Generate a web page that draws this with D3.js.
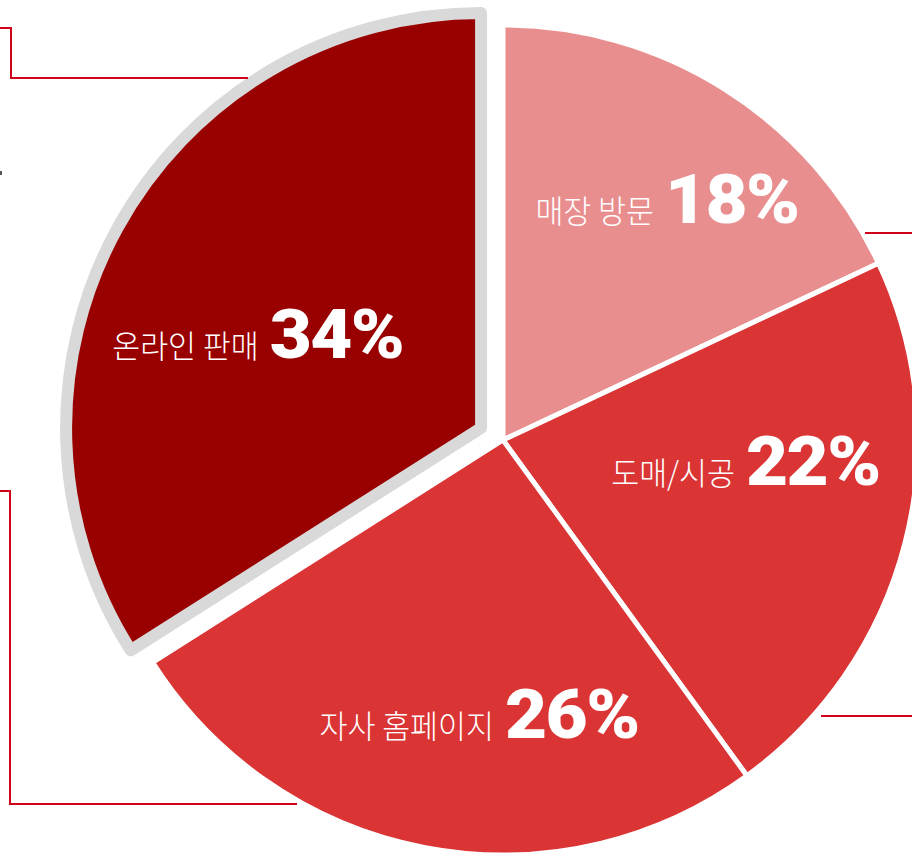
<!DOCTYPE html>
<html>
<head>
<meta charset="utf-8">
<script src="https://cdn.jsdelivr.net/npm/d3@7"></script>
<style>
  html, body { margin: 0; padding: 0; background: #ffffff; }
  svg { display: block; }
</style>
</head>
<body>
<svg id="chart" width="912" height="854"></svg>
<script>
// ---- data ----
const categories = ["매장 방문", "도매/시공", "자사 홈페이지", "온라인 판매"];
const values = [18, 22, 26, 34];
const valueLabels = ["18%", "22%", "26%", "34%"];

// ---- style / layout ----
const sliceColors = ["#e98e8e", "#da3435", "#da3435", "#990000"];
const explodedIndex = 3;
const cx = 503, cy = 440, R = 415;
const explodeDist = 25;
const labelAngleShift = [4.7, -3.9, -6.2, -11.4];   // degrees
const labelRadiusFactor = [0.655, 0.594, 0.72, 0.564];
const leaderLines = [
  [[0, 28], [11, 28], [11, 78], [248, 78]],
  [[0, 491], [10, 491], [10, 804], [297, 804]],
  [[865, 233], [912, 233]],
  [[821, 716], [912, 716]]
];

const svg = d3.select("#chart");

const pie = d3.pie().sort(null).value(d => d).startAngle(0).endAngle(2 * Math.PI);
const arcs = pie(values);
const arc = d3.arc().innerRadius(0).outerRadius(R);

const g = svg.append("g").attr("transform", `translate(${cx},${cy})`);

function offsetOf(d, i) {
  if (i !== explodedIndex) return [0, 0];
  const a = (d.startAngle + d.endAngle) / 2;
  return [Math.sin(a) * explodeDist, -Math.cos(a) * explodeDist];
}

// normal slices first, exploded slice last
const order = arcs.map((d, i) => i).filter(i => i !== explodedIndex).concat([explodedIndex]);

order.forEach(i => {
  const d = arcs[i];
  const [ox, oy] = offsetOf(d, i);
  const exploded = i === explodedIndex;
  g.append("path")
    .attr("d", arc(d))
    .attr("transform", `translate(${ox},${oy})`)
    .attr("fill", sliceColors[i])
    .attr("stroke", exploded ? "#d9d9d9" : "#ffffff")
    .attr("stroke-width", exploded ? 12 : 5)
    .attr("stroke-linejoin", "round");
});

// labels
const korScale = 0.95, numScale = 1.07, gap = 11;
arcs.forEach((d, i) => {
  const [ox, oy] = offsetOf(d, i);
  const a = (d.startAngle + d.endAngle) / 2 + labelAngleShift[i] * Math.PI / 180;
  const r = R * labelRadiusFactor[i];
  const lx = ox + Math.sin(a) * r;
  const ly = oy - Math.cos(a) * r;
  const lg = g.append("g").attr("transform", `translate(${lx},${ly})`);
  const t1 = lg.append("text")
    .attr("x", 0).attr("y", 0)
    .attr("fill", "#ffffff")
    .style("font-family", "'Noto Sans CJK KR', sans-serif")
    .style("font-weight", 300)
    .style("font-size", "32px")
    .text(categories[i]);
  const w1 = t1.node().getComputedTextLength() * korScale;
  const t2 = lg.append("text")
    .attr("x", 0).attr("y", 0)
    .attr("fill", "#ffffff")
    .style("font-family", "Roboto, sans-serif")
    .style("font-weight", 900)
    .style("font-size", "68px")
    .style("letter-spacing", "-1.5px")
    .text(valueLabels[i]);
  const w2 = t2.node().getComputedTextLength() * numScale;
  const total = w1 + gap + w2;
  t1.attr("transform", `translate(${-total / 2},0) scale(${korScale},1)`);
  t2.attr("transform", `translate(${-total / 2 + w1 + gap},0) scale(${numScale},1)`);
});

// leader lines
const line = d3.line();
leaderLines.forEach(pts => {
  svg.append("path")
    .attr("d", line(pts))
    .attr("fill", "none")
    .attr("stroke", "#d0021b")
    .attr("stroke-width", 2);
});
svg.append("rect").attr("x", 0).attr("y", 171).attr("width", 2).attr("height", 4).attr("fill", "#555555");
</script>
</body>
</html>
